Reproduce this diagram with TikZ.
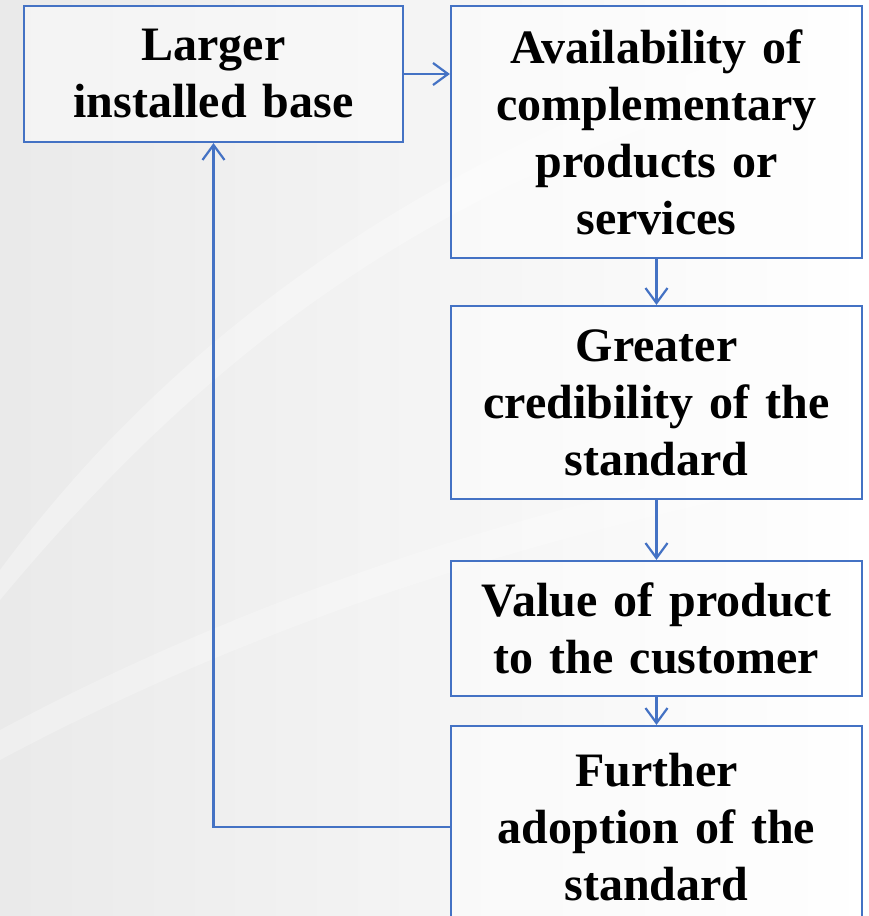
\documentclass[tikz,border=0pt]{standalone}
\usepackage{fontspec}
\setmainfont[WordSpace=0.75]{Liberation Serif}
\usepackage{xcolor}
\usepackage{tikz}
\usetikzlibrary{arrows, arrows.meta, positioning, calc}
\definecolor{linkblue}{HTML}{4472C4}
\definecolor{paleback}{HTML}{F3F3F3}

\begin{document}
\begin{tikzpicture}[
    x=1pt, y=-1pt,
    stage/.style={rectangle, draw=linkblue, line width=2.2pt, fill=white, fill opacity=0.45, text opacity=1,
        text width=#1, align=center, inner sep=0pt, font=\fontsize{48}{57}\selectfont\bfseries},
    stage/.default=405pt,
    arrow/.style={-{Straight Barb[length=15pt, width=22pt]}, draw=linkblue, line width=2.2pt}
]

% page and faint backdrop
\useasboundingbox (0,0) rectangle (869,916);
\clip (0,0) rectangle (869,916);
\shade[left color=paleback!92!gray, right color=white] (0,0) rectangle (869,916);
\fill[white, opacity=0.3] (0,600) .. controls (250,300) and (500,150) .. (869,60) -- (869,20) .. controls (500,110) and (200,300) .. (0,570) -- cycle;
\fill[white, opacity=0.25] (0,760) .. controls (300,600) and (600,520) .. (869,470) -- (869,440) .. controls (600,490) and (300,570) .. (0,730) -- cycle;

\node[stage=375pt, minimum width=379pt, minimum height=136pt] (base) at (213.5,74) {Larger\\installed base};
\node[stage, minimum width=411pt, minimum height=252pt] (compl) at (656.5,132) {Availability of\\complementary\\products or\\services};
\node[stage, minimum width=411pt, minimum height=193pt] (cred) at (656.5,402.5) {Greater\\credibility of the\\standard};
\node[stage, minimum width=411pt, minimum height=135pt] (value) at (656.5,628.5) {Value of product\\to the customer};
\node[stage, minimum width=411pt, minimum height=202pt] (adopt) at (656.5,827) {Further\\adoption of the\\standard};

\draw[arrow] (base.east) -- (base.east -| compl.west);
\draw[arrow] (compl) -- (cred);
\draw[arrow] (cred) -- (value);
\draw[arrow] (value) -- (adopt);
\draw[arrow] (adopt.west) -| (base.south);

\end{tikzpicture}
\end{document}
